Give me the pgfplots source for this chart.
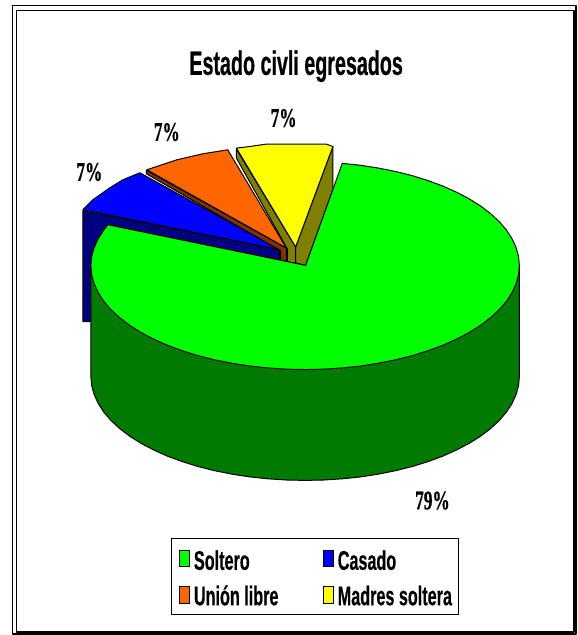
\documentclass[border=0pt]{standalone}
\usepackage{pgfplots}
\pgfplotsset{compat=1.18}
\usepackage{fontspec}
\setmainfont{Liberation Sans}
\newfontfamily\titlef[FakeStretch=0.58,BoldFeatures={FakeBold=0.4}]{Liberation Sans}
\newfontfamily\legf[FakeStretch=0.60,BoldFeatures={FakeBold=0.4}]{Liberation Sans}
\newfontfamily\labf[FakeStretch=0.64,BoldFeatures={FakeBold=0.6}]{Liberation Serif}
\definecolor{cgreen}{RGB}{0,255,0}
\definecolor{cdgreen}{RGB}{0,122,0}
\definecolor{cblue}{RGB}{0,0,255}
\definecolor{cnavy}{RGB}{0,0,128}
\definecolor{corange}{RGB}{255,102,0}
\definecolor{cbrown}{RGB}{128,51,0}
\definecolor{cyellow}{RGB}{255,255,0}
\definecolor{colive}{RGB}{128,128,0}
\begin{document}
\begin{tikzpicture}
\begin{axis}[
  scale only axis, width=578pt, height=635pt,
  xmin=0, xmax=578, ymin=0, ymax=635, y dir=reverse,
  hide axis, clip=false,
  every axis plot/.append style={draw=black, line width=1pt, line join=round, mark=none},
]
\path (axis cs:0,0) rectangle (axis cs:578,635);
% frame
\addplot[draw=black, line width=1.6pt] coordinates {(12.5,5.5) (576.5,5.5) (576.5,635) (12.5,635)} -- cycle;
\addplot[draw=black, line width=1.8pt, fill=white] coordinates {(16.5,10.5) (575,10.5) (575,632.5) (16.5,632.5)} -- cycle;
% navy side
\addplot[fill=cnavy] coordinates {(83,211) (280,250) (280,262) (200,300) (91,322) (83,322)} -- cycle;
% blue top
\addplot[fill=cblue] coordinates {(280,250) (83,210) (93,200) (110,188) (123,180) (140,173)} -- cycle;
% brown side
\addplot[fill=cbrown] coordinates {(146.5,170.5) (287,248.5) (287,262) (281,262) (281,251) (146.5,174)} -- cycle;
% orange top
\addplot[fill=corange] coordinates {(286.7,248.3) (147,170) (177,160) (203,154) (228,150)} -- cycle;
% olive sides
\addplot[fill=colive] coordinates {(236.7,149.3) (296,247.3) (296,263.3) (287.7,262.7) (287.7,249.3) (236.7,158.3)} -- cycle;
\addplot[fill=colive] coordinates {(296,247.3) (333.3,146.7) (333.3,190) (306,265.7) (296,263.3)} -- cycle;
% yellow top
\addplot[fill=cyellow] coordinates {(296,247.3) (236.7,148.3) (250,146.7) (266.7,144.3) (326.7,144.3) (333.3,146.7)} -- cycle;
% green wall
\addplot[fill=cdgreen] coordinates {(520,266) (520,377) (519.2,386.1) (516.7,395.1) (512.7,403.9) (507.1,412.6) (499.9,421.0) (491.3,429.0) (481.2,436.7) (469.8,443.9) (457.2,450.5) (443.4,456.7) (428.5,462.2) (412.8,467.1) (396.1,471.3) (378.9,474.7) (361.0,477.5) (342.7,479.4) (324.2,480.6) (305.5,481) (286.8,480.6) (268.3,479.4) (250.0,477.5) (232.1,474.7) (214.9,471.3) (198.2,467.1) (182.5,462.2) (167.6,456.7) (153.8,450.5) (141.2,443.9) (129.8,436.7) (119.7,429.0) (111.1,421.0) (103.9,412.6) (98.3,403.9) (94.3,395.1) (91.8,386.1) (91,377) (91,266)} -- cycle;
% green top
\addplot[fill=cgreen] coordinates {(306,265.7) (342.7,163.6) (361.0,165.5) (378.9,168.3) (396.1,171.7) (412.8,175.9) (428.5,180.8) (443.4,186.3) (457.2,192.5) (469.8,199.1) (481.2,206.3) (491.3,214.0) (499.9,222.0) (507.1,230.4) (512.7,239.1) (516.7,247.9) (519.2,256.9) (520,266) (519.2,275.1) (516.7,284.1) (512.7,292.9) (507.1,301.6) (499.9,310.0) (491.3,318.0) (481.2,325.7) (469.8,332.9) (457.2,339.5) (443.4,345.7) (428.5,351.2) (412.8,356.1) (396.1,360.3) (378.9,363.7) (361.0,366.5) (342.7,368.4) (324.2,369.6) (305.5,370) (286.8,369.6) (268.3,368.4) (250.0,366.5) (232.1,363.7) (214.9,360.3) (198.2,356.1) (182.5,351.2) (167.6,345.7) (153.8,339.5) (141.2,332.9) (129.8,325.7) (119.7,318.0) (111.1,310.0) (103.9,301.6) (98.3,292.9) (94.3,284.1) (91.8,275.1) (91,266) (91.8,256.9) (94.3,247.9) (98.3,239.1) (103.9,230.4) (108,225)} -- cycle;
% legend box
\addplot[fill=white, line width=1pt] coordinates {(171.7,539) (459.3,539) (459.3,615) (171.7,615)} -- cycle;
% legend swatches
\addplot[fill=cgreen, line width=0.8pt] coordinates {(179.5,551.5) (190,551.5) (190,567.5) (179.5,567.5)} -- cycle;
\addplot[fill=cblue, line width=0.8pt] coordinates {(323.5,551.5) (334,551.5) (334,567.5) (323.5,567.5)} -- cycle;
\addplot[fill=corange, line width=0.8pt] coordinates {(179.5,587) (190,587) (190,604) (179.5,604)} -- cycle;
\addplot[fill=cyellow, line width=0.8pt] coordinates {(323.5,587) (334,587) (334,604) (323.5,604)} -- cycle;
% texts
\node[anchor=base, inner sep=0pt] at (axis cs:296.5,75) {\titlef\bfseries\fontsize{34}{36}\selectfont Estado civli egresados};
\node[anchor=base, inner sep=0pt] at (axis cs:89.5,181) {\labf\bfseries\fontsize{27}{30}\selectfont 7\%};
\node[anchor=base, inner sep=0pt] at (axis cs:167,141) {\labf\bfseries\fontsize{27}{30}\selectfont 7\%};
\node[anchor=base, inner sep=0pt] at (axis cs:284,127) {\labf\bfseries\fontsize{27}{30}\selectfont 7\%};
\node[anchor=base, inner sep=0pt] at (axis cs:433,510) {\labf\bfseries\fontsize{27}{30}\selectfont 79\%};
\node[anchor=base west, inner sep=0pt] at (axis cs:194,570.5) {\legf\bfseries\fontsize{27}{30}\selectfont Soltero};
\node[anchor=base west, inner sep=0pt] at (axis cs:338,570.5) {\legf\bfseries\fontsize{27}{30}\selectfont Casado};
\node[anchor=base west, inner sep=0pt] at (axis cs:194,606) {\legf\bfseries\fontsize{27}{30}\selectfont Unión libre};
\node[anchor=base west, inner sep=0pt] at (axis cs:338,606) {\legf\bfseries\fontsize{27}{30}\selectfont Madres soltera};
\end{axis}
\end{tikzpicture}
\end{document}
